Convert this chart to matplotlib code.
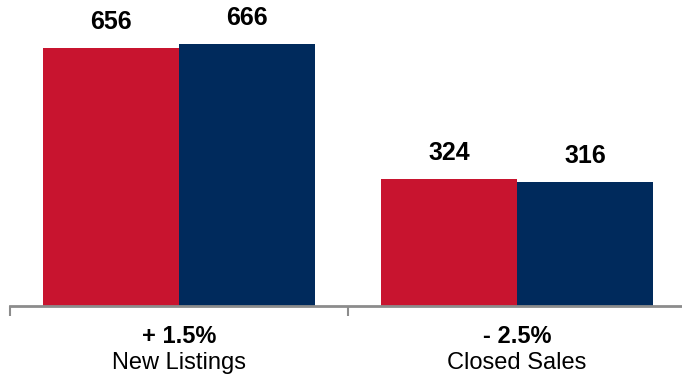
import numpy as np
import matplotlib.pyplot as plt
from matplotlib.ticker import FixedLocator

plt.rcParams['font.family'] = ['Liberation Sans', 'DejaVu Sans']

categories = ["New Listings", "Closed Sales"]
changes = ["+ 1.5%", "- 2.5%"]
prior_year = [656, 324]
current_year = [666, 316]

red = "#C8142F"
navy = "#002A5C"
axis_gray = "#8C8C8C"

W, H = 682, 375
fig = plt.figure(figsize=(W / 100, H / 100), dpi=100)
ax = fig.add_axes([10 / W, 69 / H, 676 / W, 306 / H])

x = np.arange(len(categories))
w = 0.402
b1 = ax.bar(x - w / 2, prior_year, w, color=red)
b2 = ax.bar(x + w / 2, current_year, w, color=navy)

for bars, vals in ((b1, prior_year), (b2, current_year)):
    for rect, v in zip(bars, vals):
        ax.annotate(f"{v}", (rect.get_x() + rect.get_width() / 2, v),
                    xytext=(0, 13.5), textcoords="offset points",
                    ha="center", va="baseline", fontsize=18, fontweight="bold")

ax.set_xlim(-0.5, 1.5)
ax.set_ylim(0, 778)

for s in ("top", "right", "left"):
    ax.spines[s].set_visible(False)
ax.spines["bottom"].set_color(axis_gray)
ax.spines["bottom"].set_linewidth(2)

ax.set_yticks([])
ax.set_xticks([])
ax.xaxis.set_minor_locator(FixedLocator([-0.5, 0.5, 1.5]))
ax.tick_params(axis="x", which="minor", length=7, width=1.5, color=axis_gray,
               direction="out")

# category labels below the axis, baselines placed in figure pixels
for xi, ch, cat in zip(x, changes, categories):
    tr = ax.get_xaxis_transform()
    ax.annotate(ch, (xi, 0), xycoords=tr, xytext=(0, -(343 - 306) * 0.72),
                textcoords="offset points", ha="center", va="baseline",
                fontsize=17, fontweight="bold")
    ax.annotate(cat, (xi, 0), xycoords=tr, xytext=(0, -(369 - 306) * 0.72),
                textcoords="offset points", ha="center", va="baseline",
                fontsize=17)

fig.savefig("out.png", dpi=100)
